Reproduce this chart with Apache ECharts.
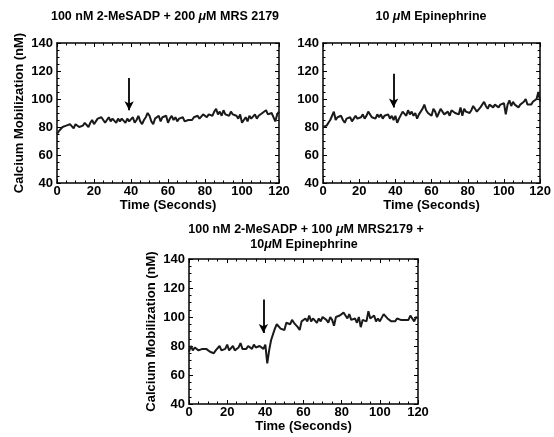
<!DOCTYPE html>
<html>
<head>
<meta charset="utf-8">
<script src="https://cdn.jsdelivr.net/npm/echarts@6/dist/echarts.min.js"></script>
<style>
html,body{margin:0;padding:0;background:#fff;}
#chart{width:554px;height:437px;}
</style>
</head>
<body>
<div id="chart"></div>
<script>
// ---- data ----
const timeSeconds = [0,1,2,3,4,5,6,7,8,9,10,11,12,13,14,15,16,17,18,19,20,21,22,23,24,25,26,27,28,29,30,31,32,33,34,35,36,37,38,39,40,41,42,43,44,45,46,47,48,49,50,51,52,53,54,55,56,57,58,59,60,61,62,63,64,65,66,67,68,69,70,71,72,73,74,75,76,77,78,79,80,81,82,83,84,85,86,87,88,89,90,91,92,93,94,95,96,97,98,99,100,101,102,103,104,105,106,107,108,109,110,111,112,113,114,115,116,117,118,119,120];

const mesadpMrs = [75,77,78,80,79,81,80,82,81,79,82,83,80,79,81,83,82,80,83,85,82,84,86,85,87,86,83,85,87,84,86,85,83,86,84,86,85,83,86,84,85,87,83,85,88,84,82,85,87,90,88,84,82,86,85,88,84,87,86,88,83,86,88,85,87,84,86,85,87,84,83,85,86,85,87,86,88,86,87,89,88,87,89,90,88,91,93,89,91,88,92,89,90,88,91,89,90,88,86,89,83,85,87,84,88,86,87,89,86,88,87,90,89,92,89,88,90,87,84,89,91];

const epinephrine = [80,80,81,83,85,86,91,85,87,86,88,85,83,86,85,87,84,86,88,86,85,87,89,86,88,91,90,87,88,86,89,87,89,86,88,87,89,86,88,85,88,83,86,85,91,90,88,92,89,91,88,90,86,89,91,93,96,92,90,89,88,93,91,87,90,93,92,89,90,91,88,92,93,90,91,89,94,88,93,91,92,90,92,95,93,91,92,94,93,98,95,93,96,95,94,96,95,94,96,95,97,89,96,99,95,98,96,97,94,96,95,98,100,96,97,96,98,97,100,105,98];

const combined = [76,80,77,79,78,77,78,78,77,78,77,76,76,75,77,76,80,77,76,78,81,77,78,80,77,76,79,82,78,77,78,80,79,78,81,79,78,80,79,78,81,68,77,84,88,92,95,94,92,93,91,96,97,95,98,96,97,93,91,97,96,99,97,101,97,99,98,96,99,97,100,99,98,96,100,98,94,100,99,101,100,103,101,99,102,98,97,99,96,100,93,98,99,97,104,99,98,101,97,99,97,98,102,101,99,100,97,98,97,99,100,98,97,98,97,98,101,99,97,100,99];

const panelTitles = [
  ['100 nM 2-MeSADP + 200 {i|μ}M MRS 2179'],
  ['10 {i|μ}M Epinephrine'],
  ['100 nM 2-MeSADP + 100 {i|μ}M MRS2179 +', '10{i|μ}M Epinephrine']
];
const xTicks = {min: 0, max: 120, step: 20};
const yTicks = {min: 40, max: 140, step: 20};
const arrowX = [39, 39, 39];
const arrowTop = [115, 118, 112];
const arrowTip = [92, 94, 89];
const xName = 'Time (Seconds)';
const yName = 'Calcium Mobilization (nM)';
const showYName = [true, false, true];

// ---- layout ----
const FONT = '"Liberation Sans", Arial, Helvetica, sans-serif';
const grids = [
  {left: 57, top: 43, width: 222, height: 140},
  {left: 323, top: 43, width: 220, height: 140},
  {left: 189, top: 259, width: 229, height: 145}
];
const titlePos = [
  [{x: 165, y: 17}],
  [{x: 431, y: 17}],
  [{x: 306, y: 230}, {x: 304, y: 245}]
];
const seriesValues = [mesadpMrs, epinephrine, combined];

const axisLineStyle = {color: '#000', width: 1.5};
function xAxisDef(i, pos) {
  const bottom = pos === 'bottom';
  return {
    type: 'value', gridIndex: i, position: pos,
    min: xTicks.min, max: xTicks.max, interval: xTicks.step,
    axisLine: {show: true, onZero: false, lineStyle: axisLineStyle},
    axisTick: {show: true, inside: true, length: 4, lineStyle: {color: '#000', width: 1}},
    minorTick: {show: true, splitNumber: 4, length: 2.5, lineStyle: {color: '#000', width: 1}},
    splitLine: {show: false},
    axisLabel: {show: bottom, color: '#000', fontFamily: FONT, fontWeight: 'bold', fontSize: 13, margin: 2},
    name: bottom ? xName : '',
    nameLocation: 'middle', nameGap: 9,
    nameTextStyle: {color: '#000', fontFamily: FONT, fontWeight: 'bold', fontSize: 13}
  };
}
function yAxisDef(i, pos) {
  const left = pos === 'left';
  return {
    type: 'value', gridIndex: i, position: pos,
    min: yTicks.min, max: yTicks.max, interval: yTicks.step,
    axisLine: {show: true, onZero: false, lineStyle: axisLineStyle},
    axisTick: {show: true, inside: true, length: 4, lineStyle: {color: '#000', width: 1}},
    minorTick: {show: true, splitNumber: 4, length: 2.5, lineStyle: {color: '#000', width: 1}},
    splitLine: {show: false},
    axisLabel: {show: left, color: '#000', fontFamily: FONT, fontWeight: 'bold', fontSize: 13, margin: 4},
    name: (left && showYName[i]) ? yName : '',
    nameLocation: 'middle', nameGap: 31,
    nameTextStyle: {color: '#000', fontFamily: FONT, fontWeight: 'bold', fontSize: 13}
  };
}

const xAxes = [], yAxes = [], series = [], graphics = [];
for (let i = 0; i < 3; i++) { xAxes.push(xAxisDef(i, 'bottom')); yAxes.push(yAxisDef(i, 'left')); }
for (let i = 0; i < 3; i++) { xAxes.push(xAxisDef(i, 'top')); yAxes.push(yAxisDef(i, 'right')); }

for (let i = 0; i < 3; i++) {
  series.push({
    type: 'line', xAxisIndex: i, yAxisIndex: i,
    data: timeSeconds.map((t, k) => [t, seriesValues[i][k]]),
    showSymbol: false, symbol: 'none',
    lineStyle: {color: '#1a1a1a', width: 2},
    silent: true,
    markLine: {
      silent: true, animation: false,
      symbol: ['none', 'arrow'], symbolSize: [7, 9],
      label: {show: false},
      lineStyle: {color: '#000', width: 1.8, type: 'solid'},
      data: [[{coord: [arrowX[i], arrowTop[i]]}, {coord: [arrowX[i], arrowTip[i]]}]]
    }
  });
  panelTitles[i].forEach((line, j) => {
    graphics.push({
      type: 'text', x: titlePos[i][j].x, y: titlePos[i][j].y,
      style: {
        text: line, align: 'center', verticalAlign: 'middle',
        fill: '#000', fontFamily: FONT, fontWeight: 'bold', fontSize: 12.5,
        rich: {i: {fontStyle: 'italic', fontWeight: 'bold', fontFamily: FONT, fontSize: 12.5, fill: '#000'}}
      }
    });
  });
}

const chart = echarts.init(document.getElementById('chart'), null, {renderer: 'canvas'});
chart.setOption({
  backgroundColor: '#fff',
  animation: false,
  grid: grids.map(g => Object.assign({containLabel: false}, g)),
  xAxis: xAxes,
  yAxis: yAxes,
  series: series,
  graphic: graphics
});
</script>
</body>
</html>
